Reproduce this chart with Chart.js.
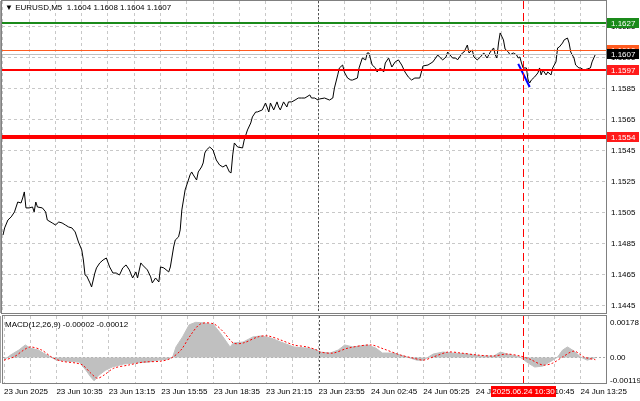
<!DOCTYPE html>
<html>
<head>
<meta charset="utf-8">
<script src="https://cdn.jsdelivr.net/npm/chart.js@4.4.1/dist/chart.umd.min.js"></script>
<style>
body { margin: 0; background: #fff; width: 640px; height: 401px; overflow: hidden; position: relative; font-family: "Liberation Sans", Arial, sans-serif; }
canvas { position: absolute; left: 0; }
#price { top: 0; }
#macd { top: 313px; }
.cap { position: absolute; font-size: 8px; line-height: 10px; color: #000; white-space: pre; }
</style>
</head>
<body>
<canvas id="price" width="640" height="314"></canvas>
<canvas id="macd" width="640" height="88"></canvas>
<div class="cap" style="left:5px;top:3px">▼ EURUSD,M5  1.1604 1.1608 1.1604 1.1607</div>
<div class="cap" style="left:5px;top:320px">MACD(12,26,9) -0.00002 -0.00012</div>
<script>
// bar index of each sampled close (M5 bars, 0 = 23 Jun 07:55)
var priceBars = [
  0, 1, 3, 5, 7, 9, 11, 12, 13, 14,
  16, 18, 19, 20, 21, 24, 26, 27, 30, 32,
  34, 36, 38, 40, 42, 44, 46, 48, 49, 50,
  51, 53, 54, 56, 57, 59, 61, 63, 65, 67,
  69, 71, 73, 75, 77, 79, 81, 82, 84, 85,
  88, 90, 91, 93, 95, 96, 98, 101, 102, 104,
  105, 107, 108, 109, 110, 111, 113, 114, 115, 116,
  118, 119, 121, 122, 123, 124, 126, 128, 130, 132,
  134, 136, 138, 139, 140, 141, 143, 146, 147, 149,
  151, 152, 154, 155, 158, 160, 162, 163, 165, 167,
  168, 169, 171, 173, 174, 176, 178, 180, 182, 184,
  187, 188, 190, 192, 193, 196, 199, 201, 202, 204,
  205, 207, 208, 210, 212, 213, 216, 217, 219, 221,
  222, 223, 225, 227, 228, 230, 232, 233, 235, 237,
  239, 241, 243, 245, 247, 249, 251, 254, 255, 256,
  259, 262, 265, 266, 268, 270, 271, 274, 276, 277,
  280, 281, 283, 284, 286, 287, 289, 291, 293, 295,
  297, 299, 300, 301, 302, 303, 305, 306, 308, 309,
  311, 313, 314, 315, 316, 317, 319, 320, 321, 322,
  324, 326, 327, 328, 329, 331, 332, 334, 335, 337,
  338, 339, 341, 342, 344, 345, 346, 348, 349, 351,
  352, 354, 356, 358, 359, 361
];
var priceClose = [
  1.14905, 1.14951, 1.15002, 1.15022, 1.15054, 1.15118, 1.15112, 1.15144, 1.15183, 1.1508,
  1.1508, 1.15086, 1.15054, 1.15118, 1.15086, 1.1508, 1.15054, 1.15002, 1.14983, 1.1497,
  1.14989, 1.14983, 1.1497, 1.14957, 1.14951, 1.14925, 1.1486, 1.14809, 1.14744, 1.14647,
  1.14641, 1.14596, 1.1457, 1.1466, 1.14693, 1.14725, 1.14744, 1.14757, 1.14699, 1.1466,
  1.1466, 1.14647, 1.14693, 1.14712, 1.1468, 1.14628, 1.14667, 1.14628, 1.14725, 1.14712,
  1.1468, 1.14635, 1.14596, 1.14628, 1.14602, 1.14699, 1.14693, 1.14667, 1.14699, 1.14828,
  1.14873, 1.14893, 1.14938, 1.15067, 1.15131, 1.15196, 1.1526, 1.15293, 1.15312, 1.15293,
  1.1526, 1.15312, 1.15344, 1.1537, 1.15434, 1.15454, 1.15473, 1.15454, 1.15389, 1.15357,
  1.15344, 1.15357, 1.15312, 1.15306, 1.15422, 1.15499, 1.15473, 1.15467, 1.15518, 1.15583,
  1.15628, 1.15667, 1.15699, 1.15699, 1.15712, 1.15757, 1.15699, 1.15757, 1.15712, 1.15764,
  1.15731, 1.15712, 1.15764, 1.15731, 1.15764, 1.15764, 1.15776, 1.15789, 1.15789, 1.15789,
  1.15809, 1.15789, 1.15789, 1.15776, 1.15783, 1.15789, 1.15776, 1.15789, 1.15854, 1.15938,
  1.15983, 1.16002, 1.15957, 1.15918, 1.15905, 1.15905, 1.15918, 1.15983, 1.16047, 1.16035,
  1.1608, 1.1608, 1.16002, 1.15983, 1.15957, 1.15983, 1.15957, 1.16015, 1.16047, 1.15989,
  1.16022, 1.16035, 1.16002, 1.15957, 1.15925, 1.15905, 1.15918, 1.15918, 1.15957, 1.15996,
  1.16002, 1.16022, 1.16067, 1.16054, 1.16035, 1.16054, 1.16086, 1.16047, 1.16047, 1.16035,
  1.1608, 1.16086, 1.16131, 1.1608, 1.16099, 1.16054, 1.16035, 1.16054, 1.1608, 1.16047,
  1.16086, 1.16112, 1.16067, 1.16047, 1.16144, 1.16209, 1.16164, 1.16105, 1.16086, 1.16067,
  1.1608, 1.16067, 1.16047, 1.16054, 1.16015, 1.15983, 1.15983, 1.15905, 1.15886, 1.15905,
  1.15925, 1.15951, 1.15983, 1.15938, 1.1597, 1.15938, 1.15957, 1.15938, 1.15983, 1.16022,
  1.16112, 1.16118, 1.16144, 1.16164, 1.16176, 1.16144, 1.16086, 1.16047, 1.16002, 1.15983,
  1.15983, 1.1597, 1.15976, 1.15983, 1.16022, 1.1607
];

// blue trend segment
var trendBars = [314, 321];
var trendValues = [1.16009, 1.1586];

// horizontal levels
var levelValues = [1.1627, 1.1610, 1.1597, 1.1554, 1.1607];
var levelColors = ['#1a8a1a', '#ff5a1f', '#ff0000', '#ff0000', '#c0c0c0'];
var levelBoxColors = ['#1a8a1a', '#ff5a1f', '#ff1a1a', '#ff1a1a', '#000000'];
var levelWidths = [2, 1, 2, 4, 1];

// MACD main (histogram) and signal
var histBars = [
  0, 4, 9, 13, 16, 21, 24, 29, 32, 39,
  46, 50, 53, 55, 58, 62, 66, 73, 79, 88,
  94, 100, 103, 105, 109, 113, 117, 122, 128, 132,
  138, 140, 146, 152, 157, 163, 169, 177, 185, 191,
  193, 199, 204, 208, 213, 222, 227, 231, 238, 246,
  252, 256, 262, 268, 274, 283, 291, 299, 303, 307,
  315, 320, 324, 329, 335, 338, 341, 344, 348, 352,
  356, 361
];
var histValues = [
  -0.00014, 0.00012, 0.00037, 0.00063, 0.00047, 0.00037, 0.00022, 0, -0.00014, -0.00019,
  -0.00024, -0.00065, -0.001, -0.00119, -0.0009, -0.00065, -0.00049, -0.00034, -0.00029, -0.00024,
  -0.00014, -0.00009, 0.00002, 0.00053, 0.00104, 0.00165, 0.00178, 0.00175, 0.00165, 0.00124,
  0.00053, 0.00073, 0.00078, 0.00104, 0.00109, 0.00098, 0.00078, 0.00053, 0.00047, 0.00037,
  0.00027, 0.00022, 0.00037, 0.00063, 0.00053, 0.00063, 0.00047, 0.00022, 0.00022, 0.00002,
  -0.00014, -0.00014, 0.00017, 0.00027, 0.00022, 0.00017, 0.00007, 0.00007, 0.00027, 0.00017,
  0.00002, -0.00029, -0.00049, -0.00044, -0.00014, 0.00002, 0.00037, 0.00053, 0.00032, 0.00002,
  -0.00014, -0.00002
];
var signalBars = [
  0, 6, 12, 16, 23, 29, 35, 44, 48, 53,
  57, 61, 67, 76, 85, 96, 102, 108, 114, 120,
  128, 134, 140, 146, 155, 161, 169, 177, 185, 191,
  193, 201, 210, 224, 232, 242, 250, 256, 262, 271,
  279, 289, 299, 307, 315, 321, 329, 335, 341, 348,
  354, 361
];
var signalValues = [
  -0.00014, 0.00002, 0.00037, 0.00053, 0.00037, 0.00002, -0.00019, -0.00029, -0.00039, -0.0008,
  -0.00106, -0.0009, -0.00055, -0.00039, -0.00024, -0.00019, -0.00004, 0.00037, 0.00114, 0.0017,
  0.0017, 0.00129, 0.00073, 0.00073, 0.00104, 0.00109, 0.00088, 0.00063, 0.00053, 0.00037,
  0.00027, 0.00022, 0.00047, 0.00063, 0.00042, 0.00012, -0.00004, -0.00014, 0.00002, 0.00027,
  0.00022, 0.00012, 0.00007, 0.00017, 0.00007, -0.00009, -0.00039, -0.00029, 0.00002, 0.00032,
  0.00002, -0.00012
];

// axes
var timeLabels = ['23 Jun 2025', '23 Jun 10:35', '23 Jun 13:15', '23 Jun 15:55', '23 Jun 18:35', '23 Jun 21:15',
  '23 Jun 23:55', '24 Jun 02:45', '24 Jun 05:25', '24 Jun 08:05', '24 Jun 10:45', '24 Jun 13:25'];
var labelEvery = 32;
var gridEvery = 16;
var priceTicks = [1.1445, 1.1465, 1.1485, 1.1505, 1.1525, 1.1545, 1.1565, 1.1585, 1.1605, 1.1625];
var macdTicks = [-0.00119, 0, 0.00178];
var macdTickLabels = ['-0.00119', '0.00', '0.00178'];
var daySeparatorBar = 192;
var markerBar = 317;
var markerLabel = '2025.06.24 10:30';

var X_MIN = -0.6, X_MAX = 367.5;
var FONT = '"Liberation Sans", Arial, sans-serif';
Chart.defaults.font.family = FONT;
Chart.defaults.font.size = 8;
Chart.defaults.color = '#000';

function pts(xs, ys) { return xs.map(function (x, i) { return { x: x, y: ys[i] }; }); }
var gridTicks = [];
for (var g = 0; g <= X_MAX; g += gridEvery) gridTicks.push({ value: g });

function vline(ctx, area, px, color, dash) {
  ctx.save();
  ctx.strokeStyle = color;
  ctx.lineWidth = 1;
  ctx.setLineDash(dash);
  ctx.beginPath();
  ctx.moveTo(Math.round(px) + 0.5, area.top);
  ctx.lineTo(Math.round(px) + 0.5, area.bottom);
  ctx.stroke();
  ctx.restore();
}
function frame(ctx, a) {
  ctx.save();
  ctx.strokeStyle = '#808080';
  ctx.lineWidth = 1;
  ctx.strokeRect(a.left - 0.5, a.top - 0.5, a.right - a.left + 1, a.bottom - a.top + 1);
  ctx.fillStyle = '#a0a0a0';
  ctx.fillRect(0, a.top, 1, a.bottom - a.top);
  ctx.restore();
}

var priceDecor = {
  id: 'priceDecor',
  afterDatasetsDraw: function (chart) {
    var ctx = chart.ctx, a = chart.chartArea, x = chart.scales.x, y = chart.scales.y;
    vline(ctx, a, x.getPixelForValue(daySeparatorBar), '#505050', [2, 2]);
    vline(ctx, a, x.getPixelForValue(markerBar), '#ff0000', [8, 4]);
    ctx.save();
    levelValues.forEach(function (v, i) {
      var py = Math.round(y.getPixelForValue(v));
      ctx.strokeStyle = levelColors[i];
      ctx.lineWidth = levelWidths[i];
      ctx.beginPath();
      var off = levelWidths[i] % 2 ? 0.5 : 0;
      ctx.moveTo(a.left, py + off);
      ctx.lineTo(a.right, py + off);
      ctx.stroke();
    });
    ctx.restore();
  },
  afterDraw: function (chart) {
    var ctx = chart.ctx, a = chart.chartArea, y = chart.scales.y;
    frame(ctx, a);
    ctx.save();
    ctx.font = '8px ' + FONT;
    ctx.textBaseline = 'middle';
    ctx.textAlign = 'left';
    levelValues.forEach(function (v, i) {
      var py = Math.round(y.getPixelForValue(v));
      ctx.fillStyle = levelBoxColors[i];
      ctx.fillRect(a.right + 1, py - 5, 32, 10);
      ctx.fillStyle = '#fff';
      ctx.fillText(v.toFixed(4), a.right + 5, py + 0.5);
    });
    ctx.restore();
  }
};

new Chart(document.getElementById('price'), {
  type: 'line',
  data: {
    datasets: [
      { data: pts(priceBars, priceClose), borderColor: '#000', borderWidth: 1, pointRadius: 0, tension: 0 },
      { data: pts(trendBars, trendValues), borderColor: '#0000ff', borderWidth: 2, pointRadius: 0 }
    ]
  },
  options: {
    responsive: false,
    animation: false,
    events: [],
    layout: { padding: { left: 2, top: 1, right: 0, bottom: 1 } },
    scales: {
      x: {
        type: 'linear', min: X_MIN, max: X_MAX,
        afterBuildTicks: function (s) { s.ticks = gridTicks.slice(); },
        afterFit: function (s) { s.height = 0; },
        ticks: { display: false },
        grid: { color: '#c8c8c8', drawTicks: false },
        border: { display: false, dash: [3, 3] }
      },
      y: {
        position: 'right', min: 1.14402, max: 1.16415,
        afterBuildTicks: function (s) { s.ticks = priceTicks.map(function (v) { return { value: v }; }); },
        afterFit: function (s) { s.width = 34; },
        ticks: { padding: 0, font: { size: 8, lineHeight: 0.1 }, callback: function (v) { return v.toFixed(4); } },
        grid: { color: '#c8c8c8', drawTicks: true, tickLength: 5, tickColor: 'rgba(0,0,0,0)' },
        border: { display: false, dash: [3, 3] }
      }
    },
    plugins: { legend: { display: false }, tooltip: { enabled: false } }
  },
  plugins: [priceDecor]
});

var macdDecor = {
  id: 'macdDecor',
  afterDatasetsDraw: function (chart) {
    var ctx = chart.ctx, a = chart.chartArea, x = chart.scales.x;
    vline(ctx, a, x.getPixelForValue(daySeparatorBar), '#505050', [2, 2]);
    vline(ctx, a, x.getPixelForValue(markerBar), '#ff0000', [8, 4]);
  },
  afterDraw: function (chart) {
    var ctx = chart.ctx, a = chart.chartArea, x = chart.scales.x;
    frame(ctx, a);
    var cx = Math.round(x.getPixelForValue(markerBar));
    ctx.save();
    ctx.fillStyle = '#ff0000';
    ctx.fillRect(cx - 32, a.bottom + 3, 65, 11);
    ctx.fillStyle = '#fff';
    ctx.font = '8px ' + FONT;
    ctx.textAlign = 'center';
    ctx.textBaseline = 'middle';
    ctx.fillText(markerLabel, cx + 0.5, a.bottom + 9);
    ctx.restore();
  }
};

new Chart(document.getElementById('macd'), {
  type: 'line',
  data: {
    datasets: [
      { data: pts(signalBars, signalValues), borderColor: '#ff0000', borderWidth: 1, borderDash: [2, 2], pointRadius: 0, tension: 0.3 },
      { data: pts(histBars, histValues), borderColor: '#c0c0c0', backgroundColor: '#c0c0c0', borderWidth: 1, fill: 'origin', pointRadius: 0, tension: 0 }
    ]
  },
  options: {
    responsive: false,
    animation: false,
    events: [],
    layout: { padding: { left: 2, top: 3, right: 0, bottom: 0 } },
    scales: {
      x: {
        type: 'linear', min: X_MIN, max: X_MAX,
        afterBuildTicks: function (s) { s.ticks = gridTicks.slice(); },
        afterFit: function (s) { s.height = 18; },
        ticks: {
          autoSkip: false, maxRotation: 0, align: 'start', padding: 4,
          callback: function (v) { return v % labelEvery === 0 ? timeLabels[v / labelEvery] : ''; }
        },
        grid: { color: '#c8c8c8', drawTicks: false },
        border: { display: false, dash: [3, 3] }
      },
      y: {
        position: 'right', min: -0.0013, max: 0.0021,
        afterBuildTicks: function (s) { s.ticks = macdTicks.map(function (v) { return { value: v }; }); },
        afterFit: function (s) { s.width = 34; },
        ticks: { padding: 0, font: { size: 8, lineHeight: 0.1 }, callback: function (v) { return macdTickLabels[macdTicks.indexOf(v)]; } },
        grid: {
          drawTicks: true, tickLength: 4, tickColor: 'rgba(0,0,0,0)',
          color: function (c) { return c.tick && c.tick.value === 0 ? '#a8a8a8' : 'rgba(0,0,0,0)'; }
        },
        border: { display: false, dash: [2, 2] }
      }
    },
    plugins: { legend: { display: false }, tooltip: { enabled: false } }
  },
  plugins: [macdDecor]
});
</script>
</body>
</html>
